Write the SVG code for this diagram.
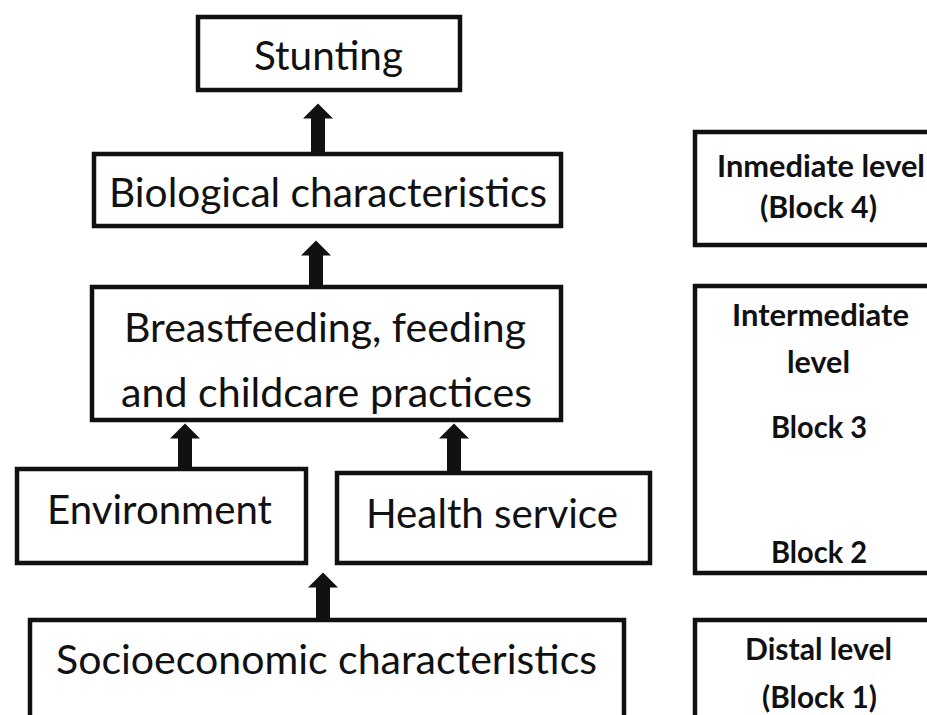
<svg xmlns="http://www.w3.org/2000/svg" width="927" height="715" viewBox="0 0 927 715">
<style>
  .box { fill: #fff; stroke: #111; stroke-width: 4.5; }
  .t { font-family: Lato, "Open Sans", "Liberation Sans", sans-serif; font-size: 41px; fill: #111; text-anchor: middle; }
  .b { font-family: Lato, "Open Sans", "Liberation Sans", sans-serif; font-size: 31px; font-weight: bold; fill: #111; text-anchor: middle; }
  .conn { stroke: #111; stroke-width: 14; fill: none; }
</style>
<defs>
  <marker id="head" markerUnits="userSpaceOnUse" markerWidth="16" markerHeight="30" viewBox="0 0 16 30" refX="0.5" refY="15" orient="auto">
    <path d="M0,0 L15,15 L0,30 Z" fill="#111"/>
  </marker>
</defs>
<rect width="927" height="715" fill="#fff"/>

<g id="connectors">
  <line class="conn" x1="318" y1="152" x2="318" y2="118" marker-end="url(#head)"/>
  <line class="conn" x1="316" y1="285" x2="316" y2="255" marker-end="url(#head)"/>
  <line class="conn" x1="185" y1="467" x2="185" y2="438" marker-end="url(#head)"/>
  <line class="conn" x1="454" y1="471" x2="454" y2="438" marker-end="url(#head)"/>
  <line class="conn" x1="323" y1="618" x2="323" y2="587" marker-end="url(#head)"/>
</g>

<g id="stunting">
  <rect class="box" x="198" y="17" width="262" height="73"/>
  <text class="t" x="328.5" y="70" textLength="149" lengthAdjust="spacingAndGlyphs">Stunting</text>
</g>

<g id="biological">
  <rect class="box" x="94" y="154" width="467" height="72"/>
  <text class="t" x="328" y="207" textLength="438" lengthAdjust="spacingAndGlyphs">Biological characteristics</text>
</g>

<g id="breastfeeding">
  <rect class="box" x="92" y="287" width="469" height="133"/>
  <text class="t" x="325" y="342" textLength="402" lengthAdjust="spacingAndGlyphs">Breastfeeding, feeding</text>
  <text class="t" x="326.5" y="407" textLength="411" lengthAdjust="spacingAndGlyphs">and childcare practices</text>
</g>

<g id="environment">
  <rect class="box" x="17" y="469" width="289" height="94"/>
  <text class="t" x="159.5" y="524" textLength="225" lengthAdjust="spacingAndGlyphs">Environment</text>
</g>

<g id="health">
  <rect class="box" x="337" y="473" width="313" height="90"/>
  <text class="t" x="492" y="528" textLength="252" lengthAdjust="spacingAndGlyphs">Health service</text>
</g>

<g id="socioeconomic">
  <rect class="box" x="30" y="620" width="594" height="110"/>
  <text class="t" x="326.5" y="674" textLength="541" lengthAdjust="spacingAndGlyphs">Socioeconomic characteristics</text>
</g>

<g id="immediate-level">
  <rect class="box" x="695" y="132" width="250" height="113"/>
  <text class="b" x="821" y="177" textLength="208" lengthAdjust="spacingAndGlyphs">Inmediate level</text>
  <text class="b" x="818.5" y="218" textLength="117" lengthAdjust="spacingAndGlyphs">(Block 4)</text>
</g>

<g id="intermediate-level">
  <rect class="box" x="695" y="286" width="250" height="287"/>
  <text class="b" x="820.5" y="326" textLength="177" lengthAdjust="spacingAndGlyphs">Intermediate</text>
  <text class="b" x="818.5" y="373" textLength="63" lengthAdjust="spacingAndGlyphs">level</text>
  <text class="b" x="819" y="438" textLength="96" lengthAdjust="spacingAndGlyphs">Block 3</text>
  <text class="b" x="819" y="563" textLength="96" lengthAdjust="spacingAndGlyphs">Block 2</text>
</g>

<g id="distal-level">
  <rect class="box" x="695" y="620" width="250" height="110"/>
  <text class="b" x="818.5" y="660" textLength="147" lengthAdjust="spacingAndGlyphs">Distal level</text>
  <text class="b" x="819.5" y="708" textLength="115" lengthAdjust="spacingAndGlyphs">(Block 1)</text>
</g>
</svg>
